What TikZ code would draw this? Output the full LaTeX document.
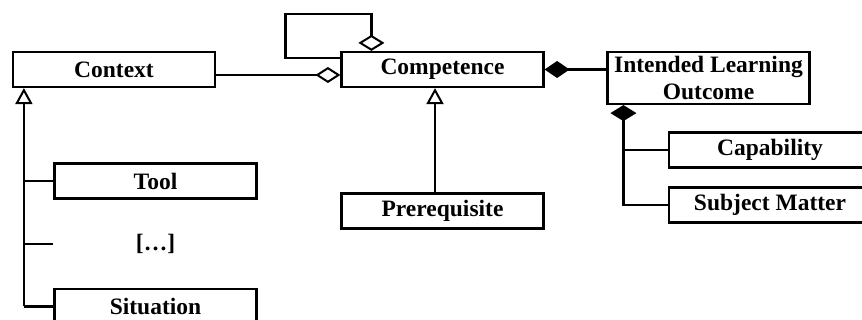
\documentclass[tikz,border=0pt]{standalone}
\usepackage{fontspec}
\setmainfont{Liberation Serif}
\usetikzlibrary{arrows.meta,calc}
\tikzset{
  cls/.style={draw, line width=2.2pt, minimum width=202pt, minimum height=35pt,
    inner sep=0pt, align=center, font=\fontsize{23.5}{27}\selectfont\bfseries},
  lbl/.style={inner sep=0pt, font=\fontsize{23.5}{27}\selectfont\bfseries},
  wire/.style={line width=2.2pt},
  aggh/.style={-{Diamond[open, length=25pt, width=16pt, line width=2pt]}},
  aggv/.style={-{Diamond[open, length=16pt, width=26pt, line width=2pt]}},
  comph/.style={-{Diamond[length=25pt, width=17pt]}},
  compv/.style={{Diamond[length=16pt, width=26pt]}-},
  inh/.style={-{Triangle[open, length=16pt, width=17pt, line width=2pt]}}
}
\begin{document}
\begin{tikzpicture}[x=1pt, y=-1pt]
  \clip (0,0) rectangle (862,320);
  \fill[white] (0,0) rectangle (862,320);

  % classes
  \node[cls] (context)    at (114,69.5)   {Context};
  \node[cls] (competence) at (442.5,69.5) {Competence};
  \node[cls, minimum height=52pt] (ilo) at (708.5,78) {Intended Learning\\Outcome};
  \node[cls] (capability) at (770,150)   {Capability};
  \node[cls] (subject)    at (770,205)   {Subject Matter};
  \node[cls] (prereq)     at (442.5,211) {Prerequisite};
  \node[cls] (tool)       at (155.5,181) {Tool};
  \node[lbl] (more)       at (155.5,244) {[\dots]};
  \node[cls] (situation)  at (155.5,306.5) {Situation};

  % Context is aggregated into Competence
  \draw[wire, aggh] ($(context.east)+(0,5.5)$) -- ($(competence.west)+(0,5.5)$);

  % Competence aggregates itself
  \coordinate (loopstart) at ($(competence.north west)+(0,7)$);
  \coordinate (loopend)   at ($(competence.north west)+(31,0)$);
  \draw[wire, aggv] (loopstart) -- ++(-55,0) -- ++(0,-44) -| (loopend);

  % Competence is composed of the intended learning outcome
  \draw[wire, comph] (ilo.west |- competence.east) -- (competence.east);

  % Intended learning outcome parts
  \coordinate (ilofoot) at ($(ilo.south west)+(17,0)$);
  \draw[wire, compv] (ilofoot) |- (subject.west);
  \draw[wire] (ilofoot |- capability.west) -- (capability.west);

  % Prerequisite specialises Competence
  \coordinate (prtop) at ($(prereq.north)+(-7.5,0)$);
  \draw[wire, inh] (prtop) -- (prtop |- competence.south);

  % Specialisations of Context
  \coordinate (ctxfoot) at ($(context.south west)+(12,0)$);
  \draw[wire, inh] (ctxfoot |- situation.west) -- (ctxfoot);
  \draw[wire] (ctxfoot |- situation.west) -- (situation.west);
  \draw[wire] (ctxfoot |- tool.west) -- (tool.west);
  \draw[wire] (ctxfoot |- more) -- (tool.west |- more);
\end{tikzpicture}
\end{document}
